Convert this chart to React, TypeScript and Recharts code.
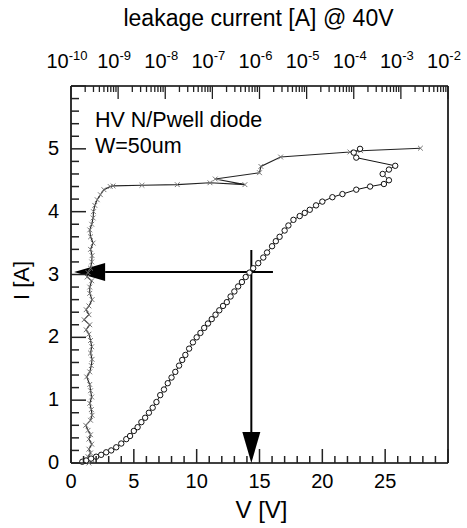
import React from 'react';
import { ComposedChart, Scatter, XAxis, YAxis, ReferenceLine, Label } from 'recharts';

// TLP I-V curve (bottom axis V, left axis I)
const tlpV = [0.9, 1.2, 1.6, 2.0, 2.4, 2.8, 3.2, 3.6, 4.0, 4.4, 4.7, 5.0, 5.3, 5.6, 5.9, 6.2, 6.5, 6.8, 7.1, 7.4, 7.7, 8.0, 8.3, 8.6, 8.85, 9.1, 9.4, 9.7, 10.0, 10.3, 10.6, 10.9, 11.2, 11.5, 11.8, 12.1, 12.4, 12.7, 13.0, 13.3, 13.6, 13.9, 14.2, 14.5, 14.9, 15.3, 15.6, 16.0, 16.3, 16.6, 17.0, 17.3, 17.7, 18.2, 18.6, 19.0, 19.5, 20.0, 20.8, 21.6, 22.7, 23.8, 24.9, 25.3, 24.8, 25.3, 25.8, 22.7, 22.5, 23.0];
const tlpI = [0.02, 0.04, 0.07, 0.1, 0.13, 0.17, 0.2, 0.25, 0.31, 0.38, 0.43, 0.51, 0.57, 0.65, 0.72, 0.8, 0.88, 0.97, 1.08, 1.17, 1.27, 1.36, 1.45, 1.55, 1.64, 1.72, 1.82, 1.92, 2.0, 2.07, 2.15, 2.22, 2.29, 2.36, 2.43, 2.5, 2.56, 2.65, 2.73, 2.81, 2.88, 2.96, 3.03, 3.1, 3.18, 3.27, 3.35, 3.45, 3.53, 3.6, 3.7, 3.78, 3.87, 3.93, 3.98, 4.03, 4.1, 4.16, 4.23, 4.28, 4.35, 4.4, 4.44, 4.5, 4.6, 4.67, 4.73, 4.86, 4.94, 5.0];

// Leakage current @ 40V (top log axis) vs TLP current (left axis)
const leakI = [0.0, 0.05, 0.1, 0.16, 0.22, 0.3, 0.38, 0.45, 0.52, 0.6, 0.68, 0.76, 0.85, 0.95, 1.05, 1.15, 1.25, 1.37, 1.45, 1.55, 1.65, 1.75, 1.85, 1.95, 2.05, 2.12, 2.2, 2.28, 2.36, 2.44, 2.5, 2.6, 2.7, 2.8, 2.9, 2.96, 3.03, 3.1, 3.2, 3.3, 3.4, 3.5, 3.6, 3.71, 3.8, 3.9, 4.0, 4.1, 4.19, 4.27, 4.35, 4.4, 4.41, 4.42, 4.43, 4.46, 4.43, 4.52, 4.62, 4.72, 4.87, 4.95, 4.97, 5.01];
const leakA = [2.4e-10, 2.8e-10, 2.3e-10, 2.6e-10, 2.4e-10, 2.75e-10, 2.4e-10, 2.6e-10, 2.3e-10, 2.05e-10, 2.6e-10, 2.8e-10, 2.7e-10, 2.5e-10, 2.75e-10, 2.6e-10, 2.5e-10, 2.15e-10, 2.5e-10, 2.7e-10, 2.8e-10, 2.6e-10, 2.75e-10, 2.6e-10, 2.4e-10, 2.1e-10, 2.5e-10, 1.9e-10, 2.4e-10, 2.1e-10, 2.4e-10, 2.8e-10, 2.5e-10, 2.5e-10, 2.75e-10, 2.2e-10, 2.3e-10, 2.6e-10, 2.75e-10, 2.8e-10, 2.6e-10, 2.95e-10, 2.6e-10, 2.5e-10, 2.75e-10, 2.95e-10, 3.0e-10, 3.2e-10, 3.6e-10, 4.2e-10, 5.0e-10, 6.8e-10, 7.8e-10, 3.2e-9, 1.8e-8, 8.9e-8, 4.9e-7, 1.15e-7, 1.0e-6, 1.07e-6, 2.8e-6, 8.3e-5, 1.4e-4, 2.6e-3];

// Axis ticks
const vMajorLabels = [0, 5, 10, 15, 20, 25];
const iMajorLabels = [0, 1, 2, 3, 4, 5];
const leakDecades = [-10, -9, -8, -7, -6, -5, -4, -3, -2];

// Annotation arrows: [V, I] pairs
const hArrow = [{ x: 16.07, y: 3.04 }, { x: 0.25, y: 3.04 }];
const vArrow = [{ x: 14.35, y: 3.39 }, { x: 14.35, y: 0 }];

const tlpData = tlpV.map((v, k) => ({ v, i: tlpI[k] }));
const leakData = leakA.map((leak, k) => ({ leak, i: leakI[k] }));

const vTicks = Array.from({ length: 31 }, (_, k) => k);
const iTicks = Array.from({ length: 31 }, (_, k) => Math.round(k * 2) / 10);
const leakTicks: number[] = [];
leakDecades.forEach((e) => {
  if (e === -2) { leakTicks.push(Number(`1e${e}`)); return; }
  for (let m = 1; m <= 9; m++) leakTicks.push(Number(`${m}e${e}`));
});

const FONT = '"Liberation Sans", Arial, Helvetica, sans-serif';
const INK = '#000';
const TICK = '#222';
const TW = 1.5;

const isInt = (v: number) => Math.abs(v - Math.round(v)) < 1e-6;
const isDecade = (v: number) => isInt(Math.log10(v));

const BottomTick = (p: any) => {
  const { x, y, payload } = p;
  const v = payload.value;
  const major = v % 5 === 0;
  return (
    <g>
      <line x1={x} y1={y} x2={x} y2={y - (major ? 14 : 7)} stroke={TICK} strokeWidth={TW} />
      {vMajorLabels.includes(v) && (
        <text x={x} y={y + 25} textAnchor="middle" fontSize={20} fontFamily={FONT} fill={INK}>{v}</text>
      )}
    </g>
  );
};

const LeftTick = (p: any) => {
  const { x, y, payload } = p;
  const v = payload.value;
  const major = isInt(v);
  return (
    <g>
      <line x1={x} y1={y} x2={x + (major ? 15 : 8)} y2={y} stroke={TICK} strokeWidth={TW} />
      {major && iMajorLabels.includes(Math.round(v)) && (
        <text x={x - 12} y={y + 6} textAnchor="end" fontSize={20} fontFamily={FONT} fill={INK}>{Math.round(v)}</text>
      )}
    </g>
  );
};

const RightTick = (p: any) => {
  const { x, y, payload } = p;
  const major = isInt(payload.value);
  return (
    <g>
      <line x1={x} y1={y} x2={x - (major ? 13 : 7)} y2={y} stroke={TICK} strokeWidth={TW} />
    </g>
  );
};

const TopTick = (p: any) => {
  const { x, y, payload } = p;
  const v = payload.value;
  const major = isDecade(v);
  return (
    <g>
      <line x1={x} y1={y} x2={x} y2={y + (major ? 13 : 6)} stroke={TICK} strokeWidth={1.3} />
      {major && (
        <text x={x - 4} y={y - 18} textAnchor="middle" fontSize={20} fontFamily={FONT} fill={INK}>
          10<tspan dy={-8} fontSize={13}>{String(Math.round(Math.log10(v)))}</tspan>
        </text>
      )}
    </g>
  );
};

const CircleMark = (p: any) => (
  <circle cx={p.cx} cy={p.cy} r={2.7} fill="#fff" stroke="#111" strokeWidth={1} />
);

const CrossMark = (p: any) => {
  const { cx, cy } = p;
  const s = 2.4;
  return (
    <g stroke="#777" strokeWidth={1}>
      <line x1={cx - s} y1={cy - s} x2={cx + s} y2={cy + s} />
      <line x1={cx - s} y1={cy + s} x2={cx + s} y2={cy - s} />
    </g>
  );
};

const ArrowShape = (p: any) => {
  const { x1, y1, x2, y2 } = p;
  const dx = x2 - x1;
  const dy = y2 - y1;
  const len = Math.hypot(dx, dy) || 1;
  const ux = dx / len;
  const uy = dy / len;
  const headLen = 31;
  const headW = 9;
  const bx = x2 - ux * headLen;
  const by = y2 - uy * headLen;
  const px = -uy;
  const py = ux;
  return (
    <g>
      <line x1={x1} y1={y1} x2={bx} y2={by} stroke="#000" strokeWidth={2} />
      <polygon points={`${x2},${y2} ${bx + px * headW},${by + py * headW} ${bx - px * headW},${by - py * headW}`} fill="#000" />
    </g>
  );
};

const vb = (p: any) => p.viewBox || { x: 0, y: 0, width: 0, height: 0 };

export default function App() {
  return (
    <div style={{ position: 'absolute', left: 0, top: 0, background: '#fff' }}>
      <ComposedChart width={467} height={528} margin={{ top: 46, right: 9, bottom: 25, left: 21 }}>
        <XAxis
          xAxisId="v"
          dataKey="v"
          type="number"
          orientation="bottom"
          domain={[0, 30]}
          ticks={vTicks}
          interval={0}
          height={40}
          tickSize={0}
          tickMargin={0}
          tickLine={false}
          axisLine={{ stroke: INK, strokeWidth: 1.6 }}
          tick={BottomTick}
        >
          <Label
            content={(p: any) => {
              const b = vb(p);
              return (
                <text x={b.x + b.width / 2 + 2} y={b.y + 55} textAnchor="middle" fontSize={24} fontFamily={FONT} fill={INK}>V [V]</text>
              );
            }}
          />
        </XAxis>
        <XAxis
          xAxisId="leak"
          dataKey="leak"
          type="number"
          scale="log"
          orientation="top"
          domain={[1e-10, 1e-2]}
          allowDataOverflow
          ticks={leakTicks}
          interval={0}
          height={40}
          tickSize={0}
          tickMargin={0}
          tickLine={false}
          axisLine={{ stroke: INK, strokeWidth: 1.6 }}
          tick={TopTick}
        >
          <Label
            content={(p: any) => {
              const b = vb(p);
              return (
                <text x={b.x + b.width / 2 - 1} y={b.y - 20} textAnchor="middle" fontSize={23} fontFamily={FONT} fill={INK}>leakage current [A] @ 40V</text>
              );
            }}
          />
          <Label
            content={(p: any) => {
              const b = vb(p);
              return (
                <text x={b.x + 24} y={b.y + b.height + 41} fontSize={21.5} fontFamily={FONT} fill={INK}>
                  <tspan x={b.x + 24}>HV N/Pwell diode</tspan>
                  <tspan x={b.x + 24} dy={26}>W=50um</tspan>
                </text>
              );
            }}
          />
        </XAxis>
        <YAxis
          yAxisId="i"
          dataKey="i"
          type="number"
          orientation="left"
          domain={[0, 6]}
          ticks={iTicks}
          interval={0}
          width={50}
          tickSize={0}
          tickMargin={0}
          tickLine={false}
          axisLine={{ stroke: INK, strokeWidth: 1.6 }}
          tick={LeftTick}
        >
          <Label
            content={(p: any) => {
              const b = vb(p);
              const cx = 29;
              const cy = b.y + b.height / 2 + 6;
              return (
                <text x={cx} y={cy} transform={`rotate(-90 ${cx} ${cy})`} textAnchor="middle" fontSize={22} fontFamily={FONT} fill={INK}>I [A]</text>
              );
            }}
          />
        </YAxis>
        <YAxis
          yAxisId="r"
          type="number"
          orientation="right"
          domain={[0, 6]}
          ticks={iTicks}
          interval={0}
          width={10}
          tickSize={0}
          tickMargin={0}
          tickLine={false}
          axisLine={{ stroke: INK, strokeWidth: 1.6 }}
          tick={RightTick}
        />
        <Scatter
          name="leakage"
          data={leakData}
          xAxisId="leak"
          yAxisId="i"
          line={{ stroke: '#222', strokeWidth: 1.1 }}
          lineType="joint"
          shape={CrossMark}
          isAnimationActive={false}
        />
        <Scatter
          name="TLP"
          data={tlpData}
          xAxisId="v"
          yAxisId="i"
          line={{ stroke: '#111', strokeWidth: 1 }}
          lineType="joint"
          shape={CircleMark}
          isAnimationActive={false}
        />
        <ReferenceLine xAxisId="v" yAxisId="i" segment={hArrow} shape={ArrowShape} />
        <ReferenceLine xAxisId="v" yAxisId="i" segment={vArrow} shape={ArrowShape} />
      </ComposedChart>
    </div>
  );
}
